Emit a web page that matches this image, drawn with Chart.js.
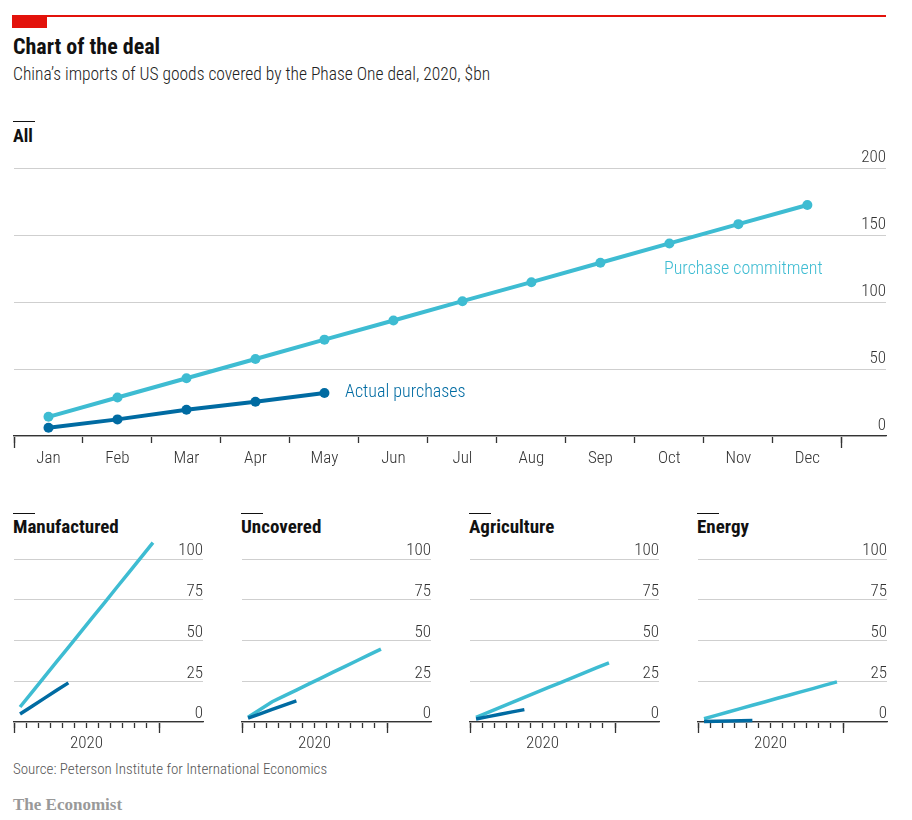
<!DOCTYPE html>
<html>
<head>
<meta charset="utf-8">
<script src="https://cdn.jsdelivr.net/npm/chart.js@4.4.0/dist/chart.umd.min.js"></script>
<style>
body { margin: 0; background: #fff; }
#page { position: relative; width: 912px; height: 820px; overflow: hidden;
  font-family: "Liberation Sans Narrow", "Roboto Condensed", Roboto, sans-serif; color: #111; }
.abs { position: absolute; white-space: nowrap; }
canvas { position: absolute; }
.bar { position: absolute; height: 1px; background: #111; width: 22px; }
.lite { font-weight: 300; }
</style>
</head>
<body>
<div id="page">
  <div class="abs" style="left:12px;top:15px;width:874px;height:1.5px;background:#e3120b"></div>
  <div class="abs" style="left:12px;top:16px;width:35px;height:12px;background:#e3120b"></div>
  <div class="abs" style="left:13px;top:36px;font-size:22px;line-height:22px;font-weight:bold">Chart of the deal</div>
  <div class="abs lite" style="left:13px;top:65px;font-size:17.5px;line-height:18px;color:#222">China’s imports of US goods covered by the Phase One deal, 2020, $bn</div>

  <div class="bar" style="left:13px;top:121px"></div>
  <div class="abs" style="left:13px;top:127px;font-size:18px;line-height:18px;font-weight:bold">All</div>

  <canvas id="main" width="912" height="330" style="left:0;top:140px"></canvas>
  <div class="abs lite" style="left:345px;top:382px;font-size:18px;line-height:18px;color:#006ba2">Actual purchases</div>
  <div class="abs lite" style="left:664px;top:259px;font-size:18px;line-height:18px;color:#3ebcd2">Purchase commitment</div>

  <div class="bar" style="left:13px;top:513px"></div>
  <div class="abs" style="left:13px;top:517px;font-size:19px;line-height:19px;font-weight:bold">Manufactured</div>
  <div class="bar" style="left:241px;top:513px"></div>
  <div class="abs" style="left:241px;top:517px;font-size:19px;line-height:19px;font-weight:bold">Uncovered</div>
  <div class="bar" style="left:469px;top:513px"></div>
  <div class="abs" style="left:469px;top:517px;font-size:19px;line-height:19px;font-weight:bold">Agriculture</div>
  <div class="bar" style="left:697px;top:513px"></div>
  <div class="abs" style="left:697px;top:517px;font-size:19px;line-height:19px;font-weight:bold">Energy</div>

  <canvas id="manu" width="228" height="217" style="left:0;top:535px"></canvas>
  <canvas id="unco" width="228" height="217" style="left:228px;top:535px"></canvas>
  <canvas id="agri" width="228" height="217" style="left:456px;top:535px"></canvas>
  <canvas id="ener" width="228" height="217" style="left:684px;top:535px"></canvas>

  <div class="abs lite" style="left:13px;top:762px;font-size:15px;line-height:15px;color:#555">Source: Peterson Institute for International Economics</div>
  <div class="abs" style="left:13px;top:796px;font-size:17px;line-height:17px;color:#999;font-family:'Liberation Serif','DejaVu Serif',serif;font-weight:bold">The Economist</div>
</div>

<script>
// data, $bn, cumulative
var months = ['Jan', 'Feb', 'Mar', 'Apr', 'May', 'Jun', 'Jul', 'Aug', 'Sep', 'Oct', 'Nov', 'Dec'];
var allCommitment = [14.3, 28.7, 43.1, 57.5, 71.9, 86.2, 100.6, 114.8, 129.3, 143.7, 158.1, 172.4];
var allActual = [6.2, 12.4, 19.6, 25.6, 32.1];
var yTicksMain = [0, 50, 100, 150, 200];

var manuCommitment = [9.2, 18.3, 27.5, 36.7, 45.8, 55.0, 64.2, 73.3, 82.5, 91.7, 100.8, 110.0];
var manuActual = [4.9, 9.7, 14.5, 19.3, 24.0];
var uncoCommitment = [3.0, 7.7, 12.4, 16.0, 19.6, 23.2, 26.8, 30.4, 34.0, 37.6, 41.2, 44.7];
var uncoActual = [2.4, 5.0, 7.7, 10.3, 12.9];
var agriCommitment = [2.9, 5.9, 9.0, 12.0, 15.1, 18.1, 21.2, 24.2, 27.2, 30.3, 33.3, 36.3];
var agriActual = [1.8, 3.3, 4.7, 6.2, 7.6];
var enerCommitment = [2.0, 4.1, 6.1, 8.2, 10.3, 12.3, 14.4, 16.4, 18.5, 20.5, 22.6, 24.6];
var enerActual = [0.3, 0.5, 0.6, 0.8, 0.9];
var yTicksSmall = [0, 25, 50, 75, 100];

var CYAN = '#3ebcd2';
var NAVY = '#006ba2';
var AXIS = '#333333';
var GRID = '#cfcfcf';

Chart.defaults.font.family = '"Liberation Sans Narrow", "Roboto Condensed", Roboto, sans-serif';
Chart.defaults.font.size = 17;
Chart.defaults.font.weight = 300;
Chart.defaults.color = '#333';

function toPoints(vals) {
    return vals.map(function (v, i) { return { x: i, y: v }; });
}

function halfTicks() {
    var t = [];
    for (var i = 0; i <= 12; i++) t.push(i - 0.5);
    return t;
}

// y axis on the right, labels sitting above the gridlines
function yAxis(ticks, offset) {
    return {
        position: 'right',
        min: ticks[0],
        max: ticks[ticks.length - 1],
        afterBuildTicks: function (s) { s.ticks = ticks.map(function (v) { return { value: v }; }); },
        border: { display: false },
        grid: { color: GRID, lineWidth: 1, drawTicks: false },
        ticks: { mirror: true, padding: 0, labelOffset: offset, color: '#333' }
    };
}

// tall tick marks at both ends of the x axis
function endTicks(min, max, len) {
    return {
        type: 'linear',
        position: { y: 0 },
        min: min, max: max,
        bounds: 'data',
        afterBuildTicks: function (s) { s.ticks = [{ value: -0.5 }, { value: 11.5 }]; },
        border: { display: false },
        grid: { drawOnChartArea: false, tickLength: len, tickColor: AXIS, tickWidth: 1.3 },
        ticks: { display: false }
    };
}

//main chart
var mainMax = 12.14;
new Chart(document.getElementById('main'), {
    type: 'line',
    data: {
        datasets: [
            {
                data: toPoints(allActual),
                borderColor: NAVY, backgroundColor: NAVY,
                borderWidth: 4, pointRadius: 5, pointBorderWidth: 0
            },
            {
                data: toPoints(allCommitment),
                borderColor: CYAN, backgroundColor: CYAN,
                borderWidth: 4, pointRadius: 5, pointBorderWidth: 0
            }
        ]
    },
    options: {
        responsive: false,
        animation: false,
        layout: { padding: { left: 14, right: 26, top: 28, bottom: 0 } },
        plugins: { legend: { display: false }, tooltip: { enabled: false } },
        scales: {
            x: {
                type: 'linear',
                min: -0.5, max: mainMax,
                bounds: 'data',
                afterBuildTicks: function (s) {
                    var t = [];
                    for (var i = 0; i <= 12; i++) {
                        t.push({ value: i - 0.5 });
                        if (i < 12) t.push({ value: i });
                    }
                    s.ticks = t;
                },
                afterFit: function (s) { s.height = 34; },
                border: { color: AXIS, width: 1.3 },
                grid: {
                    drawOnChartArea: false, tickLength: 7, tickWidth: 1.3,
                    tickColor: function (c) { return Number.isInteger(c.tick.value) ? 'rgba(0,0,0,0)' : AXIS; }
                },
                ticks: {
                    autoSkip: false, maxRotation: 0, padding: 6, color: '#333',
                    callback: function (v) { return Number.isInteger(v) ? months[v] : ''; }
                }
            },
            xe: endTicks(-0.5, mainMax, 12),
            y: yAxis(yTicksMain, -10)
        }
    }
});

//small multiples
var smallMax = -0.5 + 12 * 189 / 145;
function smallChart(id, commit, actual) {
    new Chart(document.getElementById(id), {
        type: 'line',
        data: {
            datasets: [
                { data: toPoints(actual), borderColor: NAVY, borderWidth: 3.5, pointRadius: 0, clip: false },
                { data: toPoints(commit), borderColor: CYAN, borderWidth: 3.5, pointRadius: 0, clip: false }
            ]
        },
        options: {
            responsive: false,
            animation: false,
            layout: { padding: { left: 14, right: 25, top: 24, bottom: 0 } },
            plugins: { legend: { display: false }, tooltip: { enabled: false } },
            scales: {
                x: {
                    type: 'linear',
                    min: -0.5, max: smallMax,
                    bounds: 'data',
                    afterBuildTicks: function (s) {
                        s.ticks = halfTicks().map(function (v) { return { value: v }; });
                    },
                    afterFit: function (s) { s.height = 30; },
                    border: { color: AXIS, width: 1.3 },
                    grid: { drawOnChartArea: false, tickLength: 6, tickWidth: 1.3, tickColor: AXIS },
                    ticks: {
                        autoSkip: false, maxRotation: 0, padding: 6, color: '#333',
                        callback: function (v) { return v === 5.5 ? '2020' : ''; }
                    }
                },
                xe: endTicks(-0.5, smallMax, 11),
                y: yAxis(yTicksSmall, -8)
            }
        }
    });
}

smallChart('manu', manuCommitment, manuActual);
smallChart('unco', uncoCommitment, uncoActual);
smallChart('agri', agriCommitment, agriActual);
smallChart('ener', enerCommitment, enerActual);
</script>
</body>
</html>
